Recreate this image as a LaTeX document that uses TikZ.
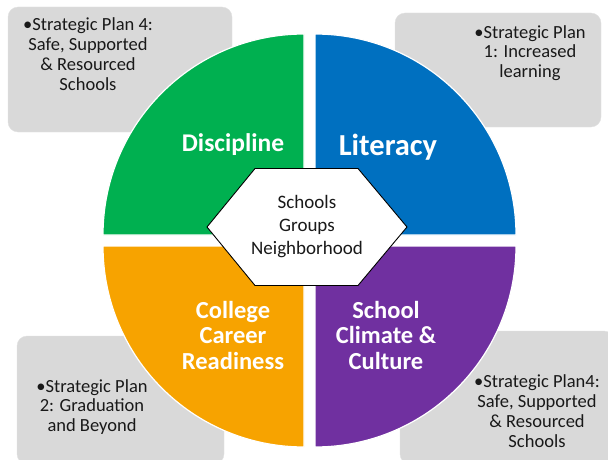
\documentclass[tikz,border=0pt]{standalone}
\usepackage{fontspec}
\setmainfont{Carlito}
\usepackage{tikz}
\usetikzlibrary{positioning}
\definecolor{discgreen}{HTML}{00B050}
\definecolor{litblue}{HTML}{0070C0}
\definecolor{readyorange}{HTML}{F7A300}
\definecolor{climpurple}{HTML}{7030A0}
\definecolor{plangray}{HTML}{D9D9D9}
\tikzset{
    %Define style for plan boxes
    planbox/.style={
           fill=plangray,
           draw=plangray!80!white,
           rounded corners=10pt},
    plantext/.style={
           align=center,
           font=\fontsize{18.5}{19.8}\selectfont,
           text=black!90},
    %Define style for quarters
    quarter/.style={
           draw=white, line width=1.2pt},
    quartertext/.style={
           align=center,
           text=white,
           font=\bfseries\fontsize{24.5}{25.5}\selectfont},
    hubtext/.style={
           align=center,
           font=\fontsize{19}{23}\selectfont,
           text=black!90}
}
\begin{document}
\begin{tikzpicture}[x=1pt,y=1pt]
\useasboundingbox (0,0) rectangle (608,459);

 %plan boxes
\path[planbox] (8,327) rectangle (232,452);
\path[planbox] (395,332) rectangle (601,446);
\path[planbox] (17,-5) rectangle (224,123);
\path[planbox] (400,-5) rectangle (614,128);

\node[plantext] (plan4a) at (88,405) {\textbullet Strategic Plan 4:\\Safe, Supported\\\& Resourced\\Schools};
\node[plantext] (plan1) at (530,406) {\textbullet Strategic Plan\\1: Increased\\learning};
\node[plantext] (plan2) at (92,52) {\textbullet Strategic Plan\\2: Graduation\\and Beyond};
\node[plantext] (plan4b) at (537,48) {\textbullet Strategic Plan4:\\Safe, Supported\\\& Resourced\\Schools};

 %quarters
\filldraw[quarter, fill=discgreen] (304,224) -- ++(-201,0) arc[start angle=180, end angle=90, radius=201] -- cycle;
\filldraw[quarter, fill=litblue] (315,224) -- ++(0,201) arc[start angle=90, end angle=0, radius=201] -- cycle;
\filldraw[quarter, fill=readyorange] (304,213) -- ++(-201,0) arc[start angle=180, end angle=270, radius=201] -- cycle;
\filldraw[quarter, fill=climpurple] (315,213) -- ++(201,0) arc[start angle=0, end angle=-90, radius=201] -- cycle;

\node[quartertext, font=\bfseries\fontsize{25.5}{27}\selectfont] (disc) at (233,314) {Discipline};
\node[quartertext, font=\bfseries\fontsize{30.5}{32}\selectfont] (lit) at (388,312) {Literacy};
\node[quartertext] (ready) at (233,124) {College\\Career\\Readiness};
\node[quartertext] (climate) at (386,124) {School\\Climate \&\\Culture};

 %hub
\filldraw[fill=white, draw=black, line width=0.9pt] (207,232) -- (255,290.5) -- (358,290.5) -- (407,232) -- (358,173.5) -- (255,173.5) -- cycle;
\node[hubtext] (hub) at (307,232) {Schools\\Groups\\Neighborhood};

\end{tikzpicture}
\end{document}
